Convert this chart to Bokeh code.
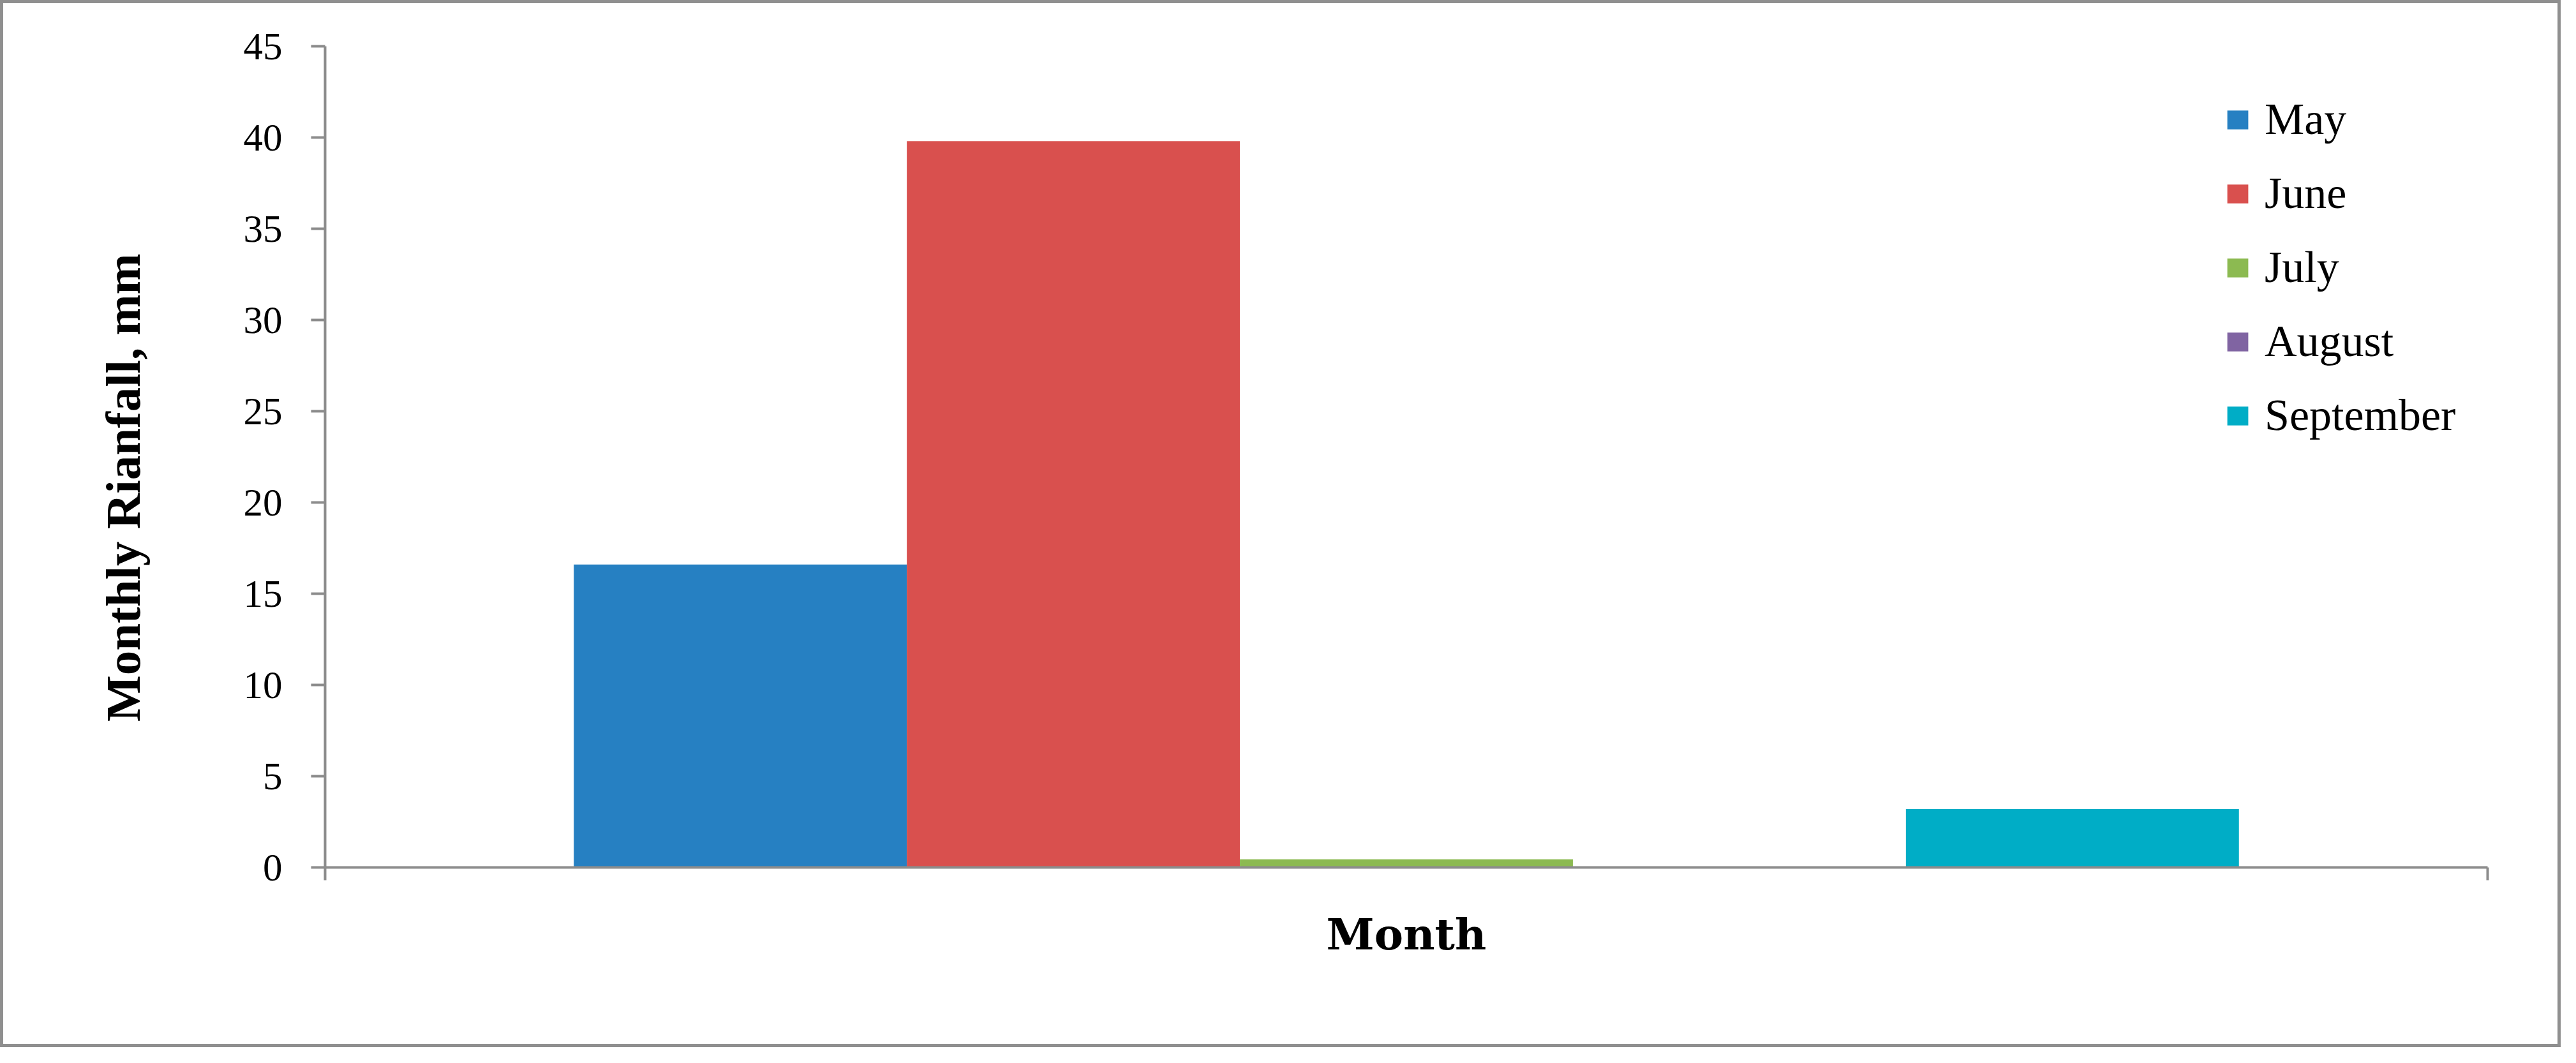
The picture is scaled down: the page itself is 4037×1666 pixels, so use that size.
from bokeh.plotting import figure
from bokeh.models import (ColumnDataSource, Range1d, FixedTicker, Legend, LegendItem)
from bokeh.embed import file_html
from bokeh.resources import INLINE

# ---- data ----
months = ["May", "June", "July", "August", "September"]
rainfall = [16.6, 39.8, 0.45, 0.0, 3.2]
colors = ["#2680C2", "#D9504E", "#8CBA51", "#8064A2", "#00ADC6"]
y_ticks = [0, 5, 10, 15, 20, 25, 30, 35, 40, 45]
x_title = "Month"
y_title = "Monthly Rianfall, mm"

# ---- layout of the single clustered group ----
group_center = 0.5
bar_width = 0.154
n = len(months)
xs = [group_center + (i - (n - 1) / 2) * bar_width for i in range(n)]

src = ColumnDataSource(dict(x=xs, top=rainfall, color=colors, month=months))

AXIS_COLOR = "#8c8c8c"

p = figure(width=4013, height=1641, output_backend="svg", toolbar_location=None,
           x_range=Range1d(0, 1), y_range=Range1d(0, 45),
           min_border_left=504, min_border_right=120,
           min_border_top=67, min_border_bottom=287)
p.styles = {"border": "5px solid #8f8f8f"}

r = p.vbar(x="x", top="top", bottom=0, width=bar_width, color="color",
           line_color=None, source=src)

p.grid.visible = False
p.outline_line_color = None
p.background_fill_color = "white"
p.border_fill_color = "white"

# y axis
ya = p.yaxis[0]
ya.ticker = FixedTicker(ticks=y_ticks)
ya.axis_line_color = AXIS_COLOR
ya.axis_line_width = 4
ya.major_tick_line_color = AXIS_COLOR
ya.major_tick_line_width = 4
ya.major_tick_out = 22
ya.major_tick_in = 0
ya.minor_tick_line_color = None
ya.major_label_standoff = 45
ya.major_label_text_font = "Liberation Serif"
ya.major_label_text_font_size = "61px"
ya.major_label_text_color = "black"
# trailing no-break spaces shift the centred title down, as in the original
ya.axis_label = y_title + "\u00a0" * 5
ya.axis_label_text_font = "Liberation Serif"
ya.axis_label_text_font_style = "bold"
ya.axis_label_text_font_size = "77px"
ya.axis_label_text_color = "black"
ya.axis_label_standoff = 143

# x axis
xa = p.xaxis[0]
xa.ticker = FixedTicker(ticks=[0, 1])
xa.major_label_overrides = {0: "", 1: ""}
xa.major_label_text_font_size = "1px"
xa.axis_line_color = AXIS_COLOR
xa.axis_line_width = 4
xa.major_tick_line_color = AXIS_COLOR
xa.major_tick_line_width = 4
xa.major_tick_out = 20
xa.major_tick_in = 0
xa.minor_tick_line_color = None
xa.axis_label = x_title
xa.axis_label_text_font = "DejaVu Serif"
xa.axis_label_text_font_style = "bold"
xa.axis_label_text_font_size = "68px"
xa.axis_label_text_color = "black"
xa.axis_label_standoff = 44

items = [LegendItem(label=m, renderers=[r], index=i) for i, m in enumerate(months)]
legend = Legend(items=items, location=(2977, 668))
legend.label_text_font = "Liberation Serif"
legend.label_text_font_size = "70px"
legend.label_text_color = "black"
legend.glyph_width = 41
legend.glyph_height = 37
legend.label_standoff = 22
legend.spacing = 36
legend.padding = 0
legend.margin = 0
legend.border_line_color = None
legend.background_fill_alpha = 0
p.add_layout(legend, "center")

open("out.html", "w").write(file_html(p, INLINE))
